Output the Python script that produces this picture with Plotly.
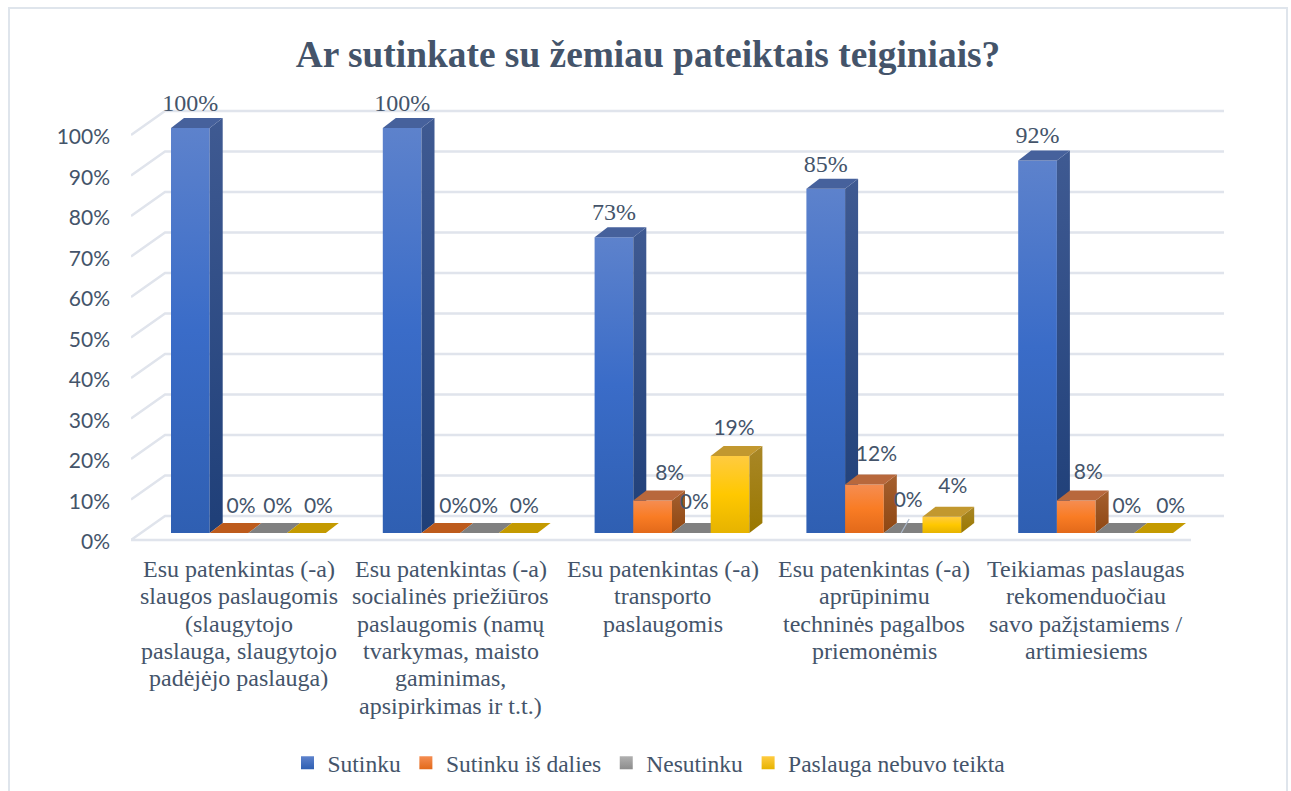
import plotly.graph_objects as go

CATEGORIES = [
    ["Esu patenkintas (-a)", "slaugos paslaugomis", "(slaugytojo", "paslauga, slaugytojo", "padėjėjo paslauga)"],
    ["Esu patenkintas (-a)", "socialinės priežiūros", "paslaugomis (namų", "tvarkymas, maisto", "gaminimas,", "apsipirkimas ir t.t.)"],
    ["Esu patenkintas (-a)", "transporto", "paslaugomis"],
    ["Esu patenkintas (-a)", "aprūpinimu", "techninės pagalbos", "priemonėmis"],
    ["Teikiamas paslaugas", "rekomenduočiau", "savo pažįstamiems /", "artimiesiems"],
]
SUTINKU = [100, 100, 73, 85, 92]
IS_DALIES = [0, 0, 8, 12, 8]
NESUTINKU = [0, 0, 0, 0, 0]
NEBUVO = [0, 0, 19, 4, 0]
TICKS = list(range(0, 101, 10))
TITLE = "Ar sutinkate su žemiau pateiktais teiginiais?"

SERIES = [
    ("Sutinku", SUTINKU,
     ["#5d82cc", "#3a6cc8", "#2f5fb2"], ["#3f5a92", "#1f3f78"], "#46619c"),
    ("Sutinku iš dalies", IS_DALIES,
     ["#f58d52", "#f97c24", "#e2691a"], ["#a5602f", "#8f4712"], "#b8683c"),
    ("Nesutinku", NESUTINKU,
     ["#b0b0b0", "#a2a2a2", "#8c8c8c"], ["#707070", "#606060"], "#808080"),
    ("Paslauga nebuvo teikta", NEBUVO,
     ["#ffcb40", "#ffc800", "#e6b300"], ["#a98727", "#9a7800"], "#c2982f"),
]
ZERO_TOP = ["#46619c", "#bd5b1c", "#808080", "#c49a00"]

# Pixel layout of the projection
L, R, T, B = 131, 1224, 85, 725   # plot area
ZERO_Y = 540                      # pixel row of 0 %
W, H = 1291, 791
PX_X = 211.8          # one category
PX_Y = 4.05           # one percent
XMIN = -0.5
XMAX = XMIN + (R - L) / PX_X
YMIN = -(B - ZERO_Y) / PX_Y
YMAX = (ZERO_Y - T) / PX_Y

def ux(px):
    return px / PX_X

def uy(px):
    return px / PX_Y

WALL_DX, WALL_DY = ux(34), uy(24)
BAR_DX, BAR_DY = ux(13), uy(10)
BASE = uy(7)
BAR_W = ux(38.7)
GROUP_LEFT = -0.5 + ux(40)

# label nudges: (dx, dy) in pixels from the bar's front-top centre, per series per category
NUDGE = [
    [(0, -23), (0, -23), (0, -23), (0, -23), (0, -23)],
    [(12, -25), (13, -25), (17, -26), (12, -29), (12, -27)],
    [(10, -25), (4, -25), (3, -29), (5, -31), (12, -25)],
    [(12, -25), (6, -25), (4, -26), (11, -29), (17, -25)],
]

fig = go.Figure()

# floor and walls
gx, gy = [], []
for t in TICKS:
    gx += [XMIN, XMIN + WALL_DX, XMAX, None]
    gy += [t, t + WALL_DY, t + WALL_DY, None]
gx += [XMIN, XMIN + 1060 / PX_X, None]
gy += [0, 0, None]
fig.add_trace(go.Scatter(x=gx, y=gy, mode="lines", showlegend=False, hoverinfo="skip",
                         line=dict(color="#e0e4ec", width=2.5)))

def poly(xs, ys, stops=None, solid=None):
    kw = dict(x=xs + [xs[0]], y=ys + [ys[0]], mode="lines", fill="toself",
              line=dict(width=0), showlegend=False, hoverinfo="skip")
    if stops is not None:
        n = len(stops) - 1
        # colorscale runs bottom -> top
        scale = [[i / n, c] for i, c in enumerate(reversed(stops))]
        kw["fillgradient"] = dict(type="vertical", colorscale=scale)
    else:
        kw["fillcolor"] = solid
    fig.add_trace(go.Scatter(**kw))

for c in range(len(CATEGORIES)):
    for s, (name, vals, front, side, top) in enumerate(SERIES):
        v = vals[c]
        x0 = c + GROUP_LEFT + s * BAR_W
        x1 = x0 + BAR_W
        y0 = BASE
        y1 = BASE + v
        if v == 0:
            poly([x0, x1, x1 + BAR_DX, x0 + BAR_DX],
                 [y0, y0, y0 + BAR_DY, y0 + BAR_DY], solid=ZERO_TOP[s])
            continue
        poly([x0, x1, x1, x0], [y0, y0, y1, y1], stops=front)
        poly([x1, x1 + BAR_DX, x1 + BAR_DX, x1],
             [y0, y0 + BAR_DY, y1 + BAR_DY, y1], stops=side)
        poly([x0, x1, x1 + BAR_DX, x0 + BAR_DX],
             [y1, y1, y1 + BAR_DY, y1 + BAR_DY], solid=top)

# leader line of the 0 % label in the fourth group
lx = 3 + GROUP_LEFT + 2.5 * BAR_W
fig.add_trace(go.Scatter(x=[lx - ux(2), lx + ux(6)], y=[BASE, BASE + uy(14)], mode="lines",
                         showlegend=False, hoverinfo="skip",
                         line=dict(color="#adb9ca", width=1.2)))

# value labels
for s, (name, vals, *_rest) in enumerate(SERIES):
    xs = [c + GROUP_LEFT + (s + 0.5) * BAR_W + ux(NUDGE[s][c][0]) for c in range(len(vals))]
    ys = [BASE + vals[c] - uy(NUDGE[s][c][1]) for c in range(len(vals))]
    fam, size = ("Liberation Serif", 24) if s == 0 else ("Lato", 21)
    fig.add_trace(go.Scatter(x=xs, y=ys, mode="text", text=[f"{v}%" for v in vals],
                             textposition="middle center", cliponaxis=False,
                             textfont=dict(family=fam, size=size, color="#44546a"),
                             showlegend=False, hoverinfo="skip"))

# legend entries
for name, vals, front, side, top in SERIES:
    fig.add_trace(go.Scatter(x=[None], y=[None], mode="markers", name=name,
                             marker=dict(symbol="square", size=13, color=front[0],
                                         gradient=dict(type="vertical", color=front[2]),
                                         line=dict(width=0))))

# category labels, line by line so the leading matches the reference
annotations = []
for c, lines in enumerate(CATEGORIES):
    for i, line in enumerate(lines):
        annotations.append(dict(text=line, x=c + ux(2), y=-uy(29 + 27.3 * i), xref="x", yref="y",
                                xanchor="center", yanchor="middle", showarrow=False,
                                font=dict(family="Liberation Serif", size=24, color="#44546a")))

fig.update_layout(
    width=W, height=H,
    margin=dict(l=L, r=W - R, t=T, b=H - B, pad=0),
    paper_bgcolor="white", plot_bgcolor="rgba(0,0,0,0)",
    font=dict(family="Liberation Serif", color="#44546a"),
    title=dict(text=f"<b>{TITLE}</b>", x=648 / W, xanchor="center", y=1 - 54 / H, yanchor="middle",
               font=dict(family="Liberation Serif", size=37.4, color="#44546a")),
    xaxis=dict(range=[XMIN, XMAX], showgrid=False, zeroline=False, showline=False, ticks="",
               showticklabels=False),
    yaxis=dict(range=[YMIN, YMAX], tickmode="array", tickvals=[t - uy(2) for t in TICKS],
               ticktext=[f"{t}%" for t in TICKS],
               showgrid=False, zeroline=False, showline=False, ticks="", ticklabelstandoff=20,
               tickfont=dict(family="Lato", size=21, color="#44546a")),
    legend=dict(orientation="h", x=(649 - L) / (R - L), xanchor="center", xref="paper", yref="container",
                y=1 - 763 / H, yanchor="middle",
                font=dict(family="Liberation Serif", size=23.5, color="#44546a"),
                bgcolor="rgba(0,0,0,0)"),
    annotations=annotations,
    shapes=[dict(type="rect", xref="paper", yref="paper",
                 x0=(9 - L) / (R - L), x1=(1287 - L) / (R - L),
                 y0=(B - 800) / (B - T), y1=(B - 8) / (B - T),
                 line=dict(color="#dfe5ec", width=2), fillcolor="rgba(0,0,0,0)", layer="below")],
)

fig.write_html("out.html", config=dict(displayModeBar=False),
               post_script="document.body.style.margin='0';")
